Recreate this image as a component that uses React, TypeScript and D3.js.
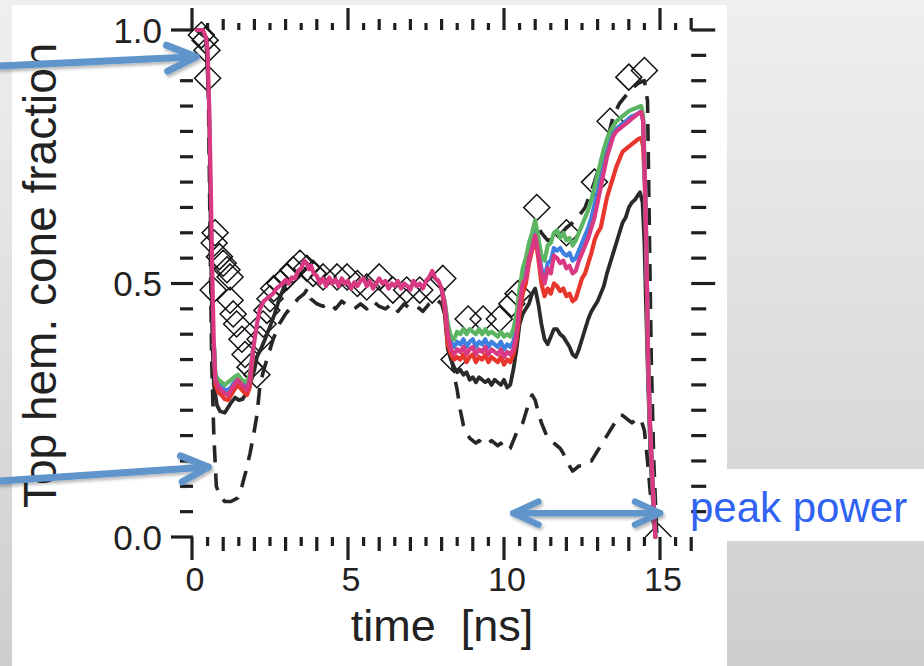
import React from 'react';
import * as d3 from 'd3';

type P = [number, number];

const xTickValues = [0, 5, 10, 15];
const xTickLabels = ['0', '5', '10', '15'];
const yTickValues = [0, 0.5, 1.0];
const yTickLabels = ['0.0', '0.5', '1.0'];
const xTitle = 'time  [ns]';
const yTitle = 'Top hem. cone fraction';
const annotationText = 'peak power';

const magenta: P[] = [
  [0.15, 1.0], [0.35, 1.0], [0.45, 0.985], [0.5, 0.96], [0.55, 0.85], [0.6, 0.7], [0.65, 0.52], [0.7, 0.38], [0.75, 0.31],
  [0.85, 0.295], [0.95, 0.29], [1.05, 0.283], [1.15, 0.28], [1.25, 0.29], [1.35, 0.3], [1.47, 0.31], [1.6, 0.3], [1.76, 0.29],
  [1.85, 0.31], [1.96, 0.37], [2.08, 0.42], [2.18, 0.45], [2.3, 0.465], [2.4, 0.47], [2.5, 0.475], [2.6, 0.48], [2.7, 0.49],
  [2.8, 0.495], [2.9, 0.5], [3.0, 0.507], [3.1, 0.5], [3.2, 0.512], [3.3, 0.51], [3.4, 0.525], [3.5, 0.53], [3.6, 0.545],
  [3.68, 0.54], [3.75, 0.528], [3.82, 0.535], [3.9, 0.52], [4.0, 0.515], [4.1, 0.5], [4.2, 0.51], [4.3, 0.495], [4.4, 0.512],
  [4.5, 0.5], [4.6, 0.508], [4.7, 0.495], [4.8, 0.51], [4.9, 0.5], [5.0, 0.505], [5.1, 0.49], [5.2, 0.502], [5.3, 0.495],
  [5.4, 0.505], [5.5, 0.51], [5.6, 0.495], [5.7, 0.505], [5.8, 0.49], [5.9, 0.5], [6.0, 0.51], [6.1, 0.5], [6.2, 0.505],
  [6.3, 0.49], [6.4, 0.5], [6.5, 0.495], [6.6, 0.505], [6.7, 0.49], [6.8, 0.5], [6.9, 0.495], [7.0, 0.488], [7.1, 0.505],
  [7.2, 0.495], [7.3, 0.5], [7.4, 0.49], [7.5, 0.505], [7.6, 0.512], [7.7, 0.525], [7.8, 0.51], [7.9, 0.505], [8.0, 0.49],
  [8.1, 0.46], [8.2, 0.4], [8.3, 0.37], [8.4, 0.36], [8.5, 0.37], [8.6, 0.365], [8.7, 0.375], [8.8, 0.36], [8.9, 0.37],
  [9.0, 0.375], [9.1, 0.36], [9.2, 0.37], [9.3, 0.365], [9.4, 0.375], [9.5, 0.36], [9.6, 0.37], [9.7, 0.365], [9.8, 0.36],
  [9.9, 0.37], [10.0, 0.355], [10.1, 0.365], [10.2, 0.36], [10.3, 0.37], [10.4, 0.4], [10.5, 0.46], [10.6, 0.5], [10.7, 0.51],
  [10.8, 0.55], [10.9, 0.57], [11.0, 0.595], [11.1, 0.56], [11.2, 0.52], [11.3, 0.5], [11.4, 0.53], [11.5, 0.52], [11.6, 0.555],
  [11.7, 0.55], [11.8, 0.54], [11.9, 0.545], [12.0, 0.53], [12.1, 0.535], [12.2, 0.52], [12.3, 0.525], [12.4, 0.545],
  [12.5, 0.56], [12.6, 0.575], [12.7, 0.59], [12.8, 0.61], [12.9, 0.63], [13.0, 0.66], [13.1, 0.69], [13.2, 0.72], [13.3, 0.75],
  [13.4, 0.77], [13.5, 0.79], [13.6, 0.8], [13.7, 0.805], [13.8, 0.81], [13.9, 0.815], [14.0, 0.82], [14.1, 0.825],
  [14.2, 0.83], [14.3, 0.835], [14.4, 0.838], [14.46, 0.82], [14.52, 0.7], [14.56, 0.58], [14.62, 0.35], [14.68, 0.22],
  [14.76, 0.11], [14.85, 0.0],
];

const redEarly: P[] = [
  [0.7, 0.38], [0.75, 0.3], [0.85, 0.285], [0.95, 0.28], [1.05, 0.272], [1.15, 0.27], [1.25, 0.28], [1.35, 0.29],
  [1.47, 0.3], [1.6, 0.29], [1.76, 0.28], [1.85, 0.295], [1.96, 0.36],
];
const blueEarly: P[] = [
  [0.7, 0.38], [0.75, 0.31], [0.85, 0.3], [0.95, 0.295], [1.05, 0.29], [1.15, 0.29], [1.25, 0.295], [1.35, 0.305],
  [1.47, 0.31], [1.6, 0.305], [1.76, 0.295], [1.85, 0.31], [1.96, 0.37],
];
const greenEarly: P[] = [
  [0.7, 0.38], [0.75, 0.32], [0.85, 0.31], [0.95, 0.305], [1.05, 0.3], [1.15, 0.305], [1.25, 0.31], [1.35, 0.315],
  [1.47, 0.32], [1.6, 0.31], [1.76, 0.305], [1.85, 0.32], [1.96, 0.37],
];

const redLate: P[] = [
  [8.0, 0.49], [8.1, 0.45], [8.2, 0.38], [8.3, 0.36], [8.4, 0.35], [8.5, 0.355], [8.6, 0.35], [8.7, 0.36], [8.8, 0.345],
  [8.9, 0.355], [9.0, 0.36], [9.1, 0.345], [9.2, 0.355], [9.3, 0.35], [9.4, 0.36], [9.5, 0.345], [9.6, 0.355], [9.7, 0.35],
  [9.8, 0.345], [9.9, 0.355], [10.0, 0.34], [10.1, 0.35], [10.2, 0.345], [10.3, 0.36], [10.4, 0.39], [10.5, 0.44],
  [10.6, 0.48], [10.7, 0.5], [10.8, 0.54], [10.9, 0.565], [11.0, 0.59], [11.1, 0.55], [11.2, 0.5], [11.3, 0.475],
  [11.4, 0.49], [11.5, 0.48], [11.6, 0.5], [11.7, 0.495], [11.8, 0.485], [11.9, 0.49], [12.0, 0.475], [12.1, 0.48],
  [12.2, 0.465], [12.3, 0.47], [12.4, 0.49], [12.5, 0.51], [12.6, 0.52], [12.7, 0.54], [12.8, 0.56], [12.9, 0.585],
  [13.0, 0.6], [13.1, 0.61], [13.2, 0.64], [13.3, 0.67], [13.4, 0.69], [13.5, 0.71], [13.6, 0.73], [13.7, 0.745],
  [13.8, 0.76], [13.9, 0.765], [14.0, 0.77], [14.1, 0.775], [14.2, 0.78], [14.3, 0.785], [14.4, 0.787], [14.46, 0.77],
  [14.52, 0.68], [14.56, 0.56], [14.62, 0.35], [14.68, 0.22], [14.76, 0.11], [14.85, 0.0],
];
const blueLate: P[] = [
  [8.0, 0.49], [8.1, 0.46], [8.2, 0.41], [8.3, 0.385], [8.4, 0.375], [8.5, 0.385], [8.6, 0.38], [8.7, 0.39], [8.8, 0.375],
  [8.9, 0.385], [9.0, 0.39], [9.1, 0.375], [9.2, 0.385], [9.3, 0.38], [9.4, 0.39], [9.5, 0.375], [9.6, 0.385], [9.7, 0.38],
  [9.8, 0.375], [9.9, 0.385], [10.0, 0.37], [10.1, 0.38], [10.2, 0.375], [10.3, 0.385], [10.4, 0.415], [10.5, 0.47],
  [10.6, 0.51], [10.7, 0.525], [10.8, 0.56], [10.9, 0.58], [11.0, 0.6], [11.1, 0.565], [11.2, 0.53], [11.3, 0.51],
  [11.4, 0.54], [11.5, 0.545], [11.6, 0.57], [11.7, 0.565], [11.8, 0.57], [11.9, 0.56], [12.0, 0.555], [12.1, 0.56],
  [12.2, 0.545], [12.3, 0.55], [12.4, 0.565], [12.5, 0.58], [12.6, 0.595], [12.7, 0.61], [12.8, 0.63], [12.9, 0.655],
  [13.0, 0.68], [13.1, 0.71], [13.2, 0.74], [13.3, 0.765], [13.4, 0.78], [13.5, 0.795], [13.6, 0.805], [13.7, 0.81],
  [13.8, 0.815], [13.9, 0.82], [14.0, 0.825], [14.1, 0.83], [14.2, 0.832], [14.3, 0.835], [14.4, 0.84], [14.46, 0.82],
  [14.52, 0.7], [14.56, 0.58], [14.62, 0.35], [14.68, 0.22], [14.76, 0.11], [14.85, 0.0],
];
const greenLate: P[] = [
  [8.0, 0.49], [8.1, 0.465], [8.2, 0.42], [8.3, 0.395], [8.4, 0.39], [8.5, 0.405], [8.6, 0.4], [8.7, 0.41], [8.8, 0.4],
  [8.9, 0.41], [9.0, 0.405], [9.1, 0.4], [9.2, 0.41], [9.3, 0.4], [9.4, 0.41], [9.5, 0.4], [9.6, 0.405], [9.7, 0.4],
  [9.8, 0.395], [9.9, 0.405], [10.0, 0.395], [10.1, 0.4], [10.2, 0.395], [10.3, 0.41], [10.4, 0.44], [10.5, 0.49],
  [10.6, 0.53], [10.7, 0.55], [10.8, 0.58], [10.9, 0.6], [11.0, 0.625], [11.1, 0.59], [11.2, 0.555], [11.3, 0.545],
  [11.4, 0.575], [11.5, 0.58], [11.6, 0.6], [11.7, 0.605], [11.8, 0.59], [11.9, 0.6], [12.0, 0.585], [12.1, 0.59],
  [12.2, 0.575], [12.3, 0.585], [12.4, 0.6], [12.5, 0.615], [12.6, 0.63], [12.7, 0.645], [12.8, 0.665], [12.9, 0.69],
  [13.0, 0.715], [13.1, 0.74], [13.2, 0.765], [13.3, 0.785], [13.4, 0.8], [13.5, 0.81], [13.6, 0.82], [13.7, 0.825],
  [13.8, 0.83], [13.9, 0.835], [14.0, 0.84], [14.1, 0.843], [14.2, 0.845], [14.3, 0.848], [14.4, 0.85], [14.46, 0.83],
  [14.52, 0.7], [14.56, 0.58], [14.62, 0.35], [14.68, 0.22], [14.76, 0.11], [14.85, 0.0],
];

const blackSolidEarly: P[] = [
  [0.15, 1.0], [0.45, 0.985], [0.55, 0.85], [0.6, 0.6], [0.65, 0.4], [0.7, 0.3], [0.8, 0.26], [0.9, 0.248], [1.05, 0.245],
  [1.15, 0.255], [1.25, 0.265], [1.38, 0.275], [1.5, 0.27], [1.62, 0.272], [1.76, 0.285], [1.9, 0.31], [2.0, 0.33],
  [2.08, 0.355], [2.2, 0.37], [2.34, 0.39], [2.5, 0.415], [2.65, 0.44], [2.8, 0.47], [3.0, 0.5],
];
const blackSolidLate: P[] = [
  [8.0, 0.49], [8.1, 0.44], [8.2, 0.37], [8.3, 0.35], [8.4, 0.335], [8.5, 0.325], [8.6, 0.33], [8.7, 0.32], [8.8, 0.325],
  [8.9, 0.31], [9.0, 0.315], [9.1, 0.305], [9.2, 0.315], [9.3, 0.31], [9.4, 0.305], [9.5, 0.31], [9.6, 0.3], [9.7, 0.31],
  [9.8, 0.305], [9.9, 0.3], [10.0, 0.31], [10.1, 0.295], [10.2, 0.3], [10.3, 0.33], [10.4, 0.37], [10.5, 0.42],
  [10.6, 0.44], [10.7, 0.45], [10.8, 0.46], [10.9, 0.48], [11.0, 0.49], [11.1, 0.46], [11.2, 0.42], [11.3, 0.39],
  [11.4, 0.38], [11.5, 0.395], [11.6, 0.41], [11.7, 0.41], [11.8, 0.4], [11.9, 0.395], [12.0, 0.385], [12.1, 0.375],
  [12.2, 0.36], [12.3, 0.355], [12.4, 0.37], [12.5, 0.39], [12.6, 0.41], [12.7, 0.43], [12.8, 0.445], [12.9, 0.455],
  [13.0, 0.465], [13.1, 0.48], [13.2, 0.495], [13.3, 0.52], [13.4, 0.54], [13.5, 0.56], [13.6, 0.58], [13.7, 0.6],
  [13.8, 0.62], [13.9, 0.63], [14.0, 0.65], [14.1, 0.66], [14.2, 0.665], [14.3, 0.675], [14.36, 0.68], [14.44, 0.66],
  [14.5, 0.58], [14.55, 0.46], [14.62, 0.3], [14.7, 0.15], [14.78, 0.06], [14.85, 0.0],
];

const lowerDashed: P[] = [
  [0.15, 1.0], [0.45, 0.985], [0.52, 0.9], [0.58, 0.6], [0.63, 0.35], [0.7, 0.2], [0.78, 0.1], [0.9, 0.08], [1.05, 0.07],
  [1.25, 0.07], [1.47, 0.077], [1.6, 0.1], [1.73, 0.13], [1.86, 0.165], [1.97, 0.2], [2.08, 0.24], [2.18, 0.3],
  [2.3, 0.33], [2.45, 0.36], [2.6, 0.39], [2.8, 0.42], [3.0, 0.44], [3.2, 0.455], [3.4, 0.47], [3.6, 0.48], [3.7, 0.49],
  [3.8, 0.47], [4.0, 0.46], [4.2, 0.455], [4.4, 0.462], [4.6, 0.45], [4.8, 0.465], [5.0, 0.455], [5.2, 0.45], [5.4, 0.46],
  [5.6, 0.45], [5.8, 0.465], [6.0, 0.455], [6.2, 0.45], [6.4, 0.46], [6.6, 0.445], [6.8, 0.46], [7.0, 0.45], [7.2, 0.455],
  [7.4, 0.445], [7.6, 0.46], [7.8, 0.47], [7.9, 0.465], [8.0, 0.46], [8.1, 0.44], [8.2, 0.4], [8.3, 0.36], [8.4, 0.32],
  [8.5, 0.29], [8.6, 0.25], [8.7, 0.22], [8.8, 0.205], [8.9, 0.195], [9.0, 0.19], [9.1, 0.185], [9.2, 0.19], [9.3, 0.185],
  [9.4, 0.18], [9.5, 0.185], [9.6, 0.19], [9.7, 0.185], [9.8, 0.18], [9.9, 0.185], [10.0, 0.175], [10.1, 0.17],
  [10.2, 0.175], [10.3, 0.19], [10.4, 0.205], [10.5, 0.215], [10.6, 0.225], [10.7, 0.245], [10.8, 0.265], [10.9, 0.28],
  [11.0, 0.27], [11.1, 0.245], [11.2, 0.225], [11.3, 0.21], [11.4, 0.195], [11.5, 0.19], [11.6, 0.185], [11.7, 0.18],
  [11.8, 0.175], [11.9, 0.165], [12.0, 0.15], [12.1, 0.14], [12.2, 0.13], [12.3, 0.135], [12.4, 0.14], [12.5, 0.14],
  [12.6, 0.145], [12.7, 0.15], [12.8, 0.15], [12.9, 0.16], [13.0, 0.17], [13.1, 0.18], [13.2, 0.19], [13.3, 0.2],
  [13.4, 0.21], [13.5, 0.22], [13.6, 0.23], [13.7, 0.24], [13.8, 0.24], [13.9, 0.235], [14.0, 0.23], [14.1, 0.225],
  [14.2, 0.23], [14.3, 0.235], [14.4, 0.23], [14.5, 0.21], [14.6, 0.15], [14.7, 0.08], [14.8, 0.02], [14.85, 0.0],
];
const upperDashed: P[] = [
  [10.4, 0.42], [10.6, 0.5], [10.8, 0.57], [11.0, 0.62], [11.2, 0.6], [11.4, 0.585], [11.7, 0.59], [12.0, 0.61],
  [12.3, 0.625], [12.6, 0.65], [12.9, 0.7], [13.1, 0.74], [13.3, 0.78], [13.5, 0.83], [13.7, 0.855], [13.9, 0.87],
  [14.1, 0.885], [14.3, 0.895], [14.5, 0.9], [14.6, 0.86], [14.66, 0.6], [14.72, 0.35], [14.8, 0.15], [14.9, 0.0],
];

const diamonds: P[] = [
  [0.3, 0.99], [0.42, 0.98], [0.48, 0.96], [0.5, 0.905], [0.74, 0.6], [0.71, 0.58], [0.88, 0.553], [1.0, 0.54],
  [1.12, 0.527], [1.22, 0.513], [0.68, 0.487], [1.22, 0.467], [1.32, 0.44], [1.43, 0.42], [1.6, 0.39], [1.7, 0.36],
  [1.86, 0.335], [2.08, 0.32], [2.18, 0.39], [2.28, 0.42], [2.4, 0.447], [2.5, 0.47], [2.62, 0.49], [2.82, 0.5],
  [3.04, 0.513], [3.24, 0.527], [3.46, 0.54], [3.68, 0.53], [3.88, 0.52], [4.2, 0.513], [4.65, 0.513], [4.97, 0.513],
  [5.3, 0.5], [5.6, 0.493], [6.0, 0.513], [6.44, 0.487], [6.88, 0.487], [7.3, 0.487], [7.7, 0.487], [8.04, 0.51],
  [8.4, 0.35], [8.85, 0.43], [9.33, 0.43], [9.85, 0.43], [10.25, 0.46], [10.45, 0.48], [11.05, 0.65], [12.0, 0.6],
  [12.9, 0.7], [13.4, 0.82], [14.0, 0.907], [14.5, 0.92],
];
const triangles: P[] = [[14.95, 0.0]];

// annotation arrows, in data coordinates of their tips
const leftArrowTips: P[] = [[0.13, 0.947], [0.52, 0.138]];
const peakPowerSpan: P[] = [[10.3, 0.047], [15.0, 0.047]];

const FONT = "'Liberation Sans', Arial, Helvetica, sans-serif";

export default function App() {
  const x = d3.scaleLinear().domain([0, 16]).range([192, 691.2]);
  const y = d3.scaleLinear().domain([0, 1]).range([537, 30]);
  const line = d3.line<P>().x(d => x(d[0])).y(d => y(d[1]));

  const halfTicks = d3.range(0, 16.001, 0.5);
  const yMinor = d3.range(0, 1.0001, 0.05);

  const isMult = (v: number, m: number) => Math.abs(v / m - Math.round(v / m)) < 1e-6;

  const tickColor = '#1f1f1f';
  const arrowColor = '#5f95cb';

  const chevron = (fx: number, fy: number, tx: number, ty: number, back: number, spread: number) => {
    const dx = tx - fx, dy = ty - fy;
    const L = Math.hypot(dx, dy);
    const ux = dx / L, uy = dy / L;
    const nx = -uy, ny = ux;
    const ax = tx - back * ux + spread * nx, ay = ty - back * uy + spread * ny;
    const bx = tx - back * ux - spread * nx, by = ty - back * uy - spread * ny;
    return `M${ax},${ay}L${tx},${ty}L${bx},${by}`;
  };

  const a1 = { fx: 0, fy: 66, tx: x(leftArrowTips[0][0]), ty: y(leftArrowTips[0][1]) };
  const a2 = { fx: 0, fy: 481, tx: x(leftArrowTips[1][0]), ty: y(leftArrowTips[1][1]) };
  const dL = { x: x(peakPowerSpan[0][0]), y: y(peakPowerSpan[0][1]) };
  const dR = { x: x(peakPowerSpan[1][0]), y: y(peakPowerSpan[1][1]) };

  const series: { data: P[]; color: string; width: number; dash?: string }[] = [
    { data: lowerDashed, color: '#262626', width: 3.6, dash: '17 11' },
    { data: upperDashed, color: '#262626', width: 3.6, dash: '17 11' },
    { data: blackSolidEarly, color: '#2a2a2a', width: 3.8 },
    { data: blackSolidLate, color: '#2a2a2a', width: 3.8 },
    { data: redEarly, color: '#e8362c', width: 4.2 },
    { data: redLate, color: '#e8362c', width: 4.2 },
    { data: blueEarly, color: '#3d80e0', width: 4.2 },
    { data: blueLate, color: '#3d80e0', width: 4.2 },
    { data: greenEarly, color: '#5cb562', width: 4.2 },
    { data: greenLate, color: '#5cb562', width: 4.2 },
    { data: magenta, color: '#d93883', width: 4.2 },
  ];

  return (
    <svg width={924} height={666} style={{ position: 'absolute', left: 0, top: 0 }} fontFamily={FONT}>
      <defs>
        <linearGradient id="bg" x1="0" y1="0" x2="0" y2="1">
          <stop offset="0%" stopColor="#efefef" />
          <stop offset="100%" stopColor="#cecece" />
        </linearGradient>
        <filter id="shadow" x="-20%" y="-50%" width="140%" height="200%">
          <feDropShadow dx="1.5" dy="2.5" stdDeviation="1.8" floodColor="#000" floodOpacity="0.28" />
        </filter>
      </defs>
      <rect x={0} y={0} width={924} height={666} fill="url(#bg)" />
      <rect x={12} y={5} width={715} height={661} fill="#ffffff" />
      <rect x={727} y={469} width={197} height={72} fill="#ffffff" />

      {/* ticks: left & right */}
      {yMinor.map((v, i) => {
        const major = isMult(v, 0.5);
        return (
          <g key={'yt' + i}>
            <line x1={major ? 171 : 180} x2={193} y1={y(v)} y2={y(v)} stroke={tickColor} strokeWidth={3.2} />
            {v > 0.001 && (
              <line x1={x(16)} x2={x(16) + (major ? 24 : 15)} y1={y(v)} y2={y(v)} stroke={tickColor} strokeWidth={3.2} />
            )}
          </g>
        );
      })}
      {/* ticks: top & bottom */}
      {halfTicks.map((t, i) => {
        const m5 = isMult(t, 5);
        const m1 = isMult(t, 1);
        const topLen = m5 ? 22 : t === 16 ? 12 : m1 ? 11 : 7;
        const botLen = m5 ? 23 : m1 ? 14 : 9;
        return (
          <g key={'xt' + i}>
            <line x1={x(t)} x2={x(t)} y1={y(1)} y2={y(1) - topLen} stroke={tickColor} strokeWidth={3.2} />
            <line x1={x(t)} x2={x(t)} y1={y(0)} y2={y(0) + botLen} stroke={tickColor} strokeWidth={3.2} />
          </g>
        );
      })}

      {/* tick labels */}
      {yTickValues.map((v, i) => (
        <text key={'yl' + i} x={162} y={y(v) + 12.5} fontSize={35} textAnchor="end" fill="#222">
          {yTickLabels[i]}
        </text>
      ))}
      {xTickValues.map((t, i) => (
        <text key={'xl' + i} x={x(t) + 3} y={591} fontSize={34} textAnchor="middle" fill="#222">
          {xTickLabels[i]}
        </text>
      ))}

      {/* axis titles */}
      <text x={442} y={641} fontSize={45} textAnchor="middle" fill="#222" style={{ whiteSpace: 'pre' }}>
        {xTitle}
      </text>
      <text transform="translate(56,508) rotate(-90)" fontSize={46} textAnchor="start" fill="#222">
        {yTitle}
      </text>

      {/* diamonds */}
      {diamonds.map((d, i) => (
        <path
          key={'dm' + i}
          d="M0,-13L13,0L0,13L-13,0Z"
          transform={`translate(${x(d[0])},${y(d[1])})`}
          fill="none"
          stroke="#111"
          strokeWidth={1.5}
        />
      ))}
      {triangles.map((d, i) => (
        <path
          key={'tr' + i}
          d="M-13,0L0,-13L13,0"
          transform={`translate(${x(d[0])},${y(d[1])})`}
          fill="none"
          stroke="#111"
          strokeWidth={1.5}
        />
      ))}

      {/* lines */}
      {series.map((s, i) => (
        <path
          key={'s' + i}
          d={line(s.data) || ''}
          fill="none"
          stroke={s.color}
          strokeWidth={s.width}
          strokeDasharray={s.dash}
          strokeLinejoin="round"
          strokeLinecap={s.dash ? 'butt' : 'round'}
        />
      ))}

      {/* annotations */}
      <g filter="url(#shadow)" stroke={arrowColor} fill="none" strokeLinecap="round" strokeLinejoin="round">
        <line x1={a1.fx} y1={a1.fy} x2={a1.tx} y2={a1.ty} strokeWidth={7} />
        <path d={chevron(a1.fx, a1.fy, a1.tx, a1.ty, 29, 13)} strokeWidth={7} />
        <line x1={a2.fx} y1={a2.fy} x2={a2.tx} y2={a2.ty} strokeWidth={7} />
        <path d={chevron(a2.fx, a2.fy, a2.tx, a2.ty, 27, 13)} strokeWidth={7} />
        <line x1={dL.x} y1={dL.y} x2={dR.x} y2={dR.y} strokeWidth={6.5} />
        <path d={chevron(dR.x, dR.y, dL.x, dL.y, 25, 11.5)} strokeWidth={6.5} />
        <path d={chevron(dL.x, dL.y, dR.x, dR.y, 25, 11.5)} strokeWidth={6.5} />
      </g>
      <text x={690} y={522} fontSize={42} fill="#3163f2">
        {annotationText}
      </text>
    </svg>
  );
}
